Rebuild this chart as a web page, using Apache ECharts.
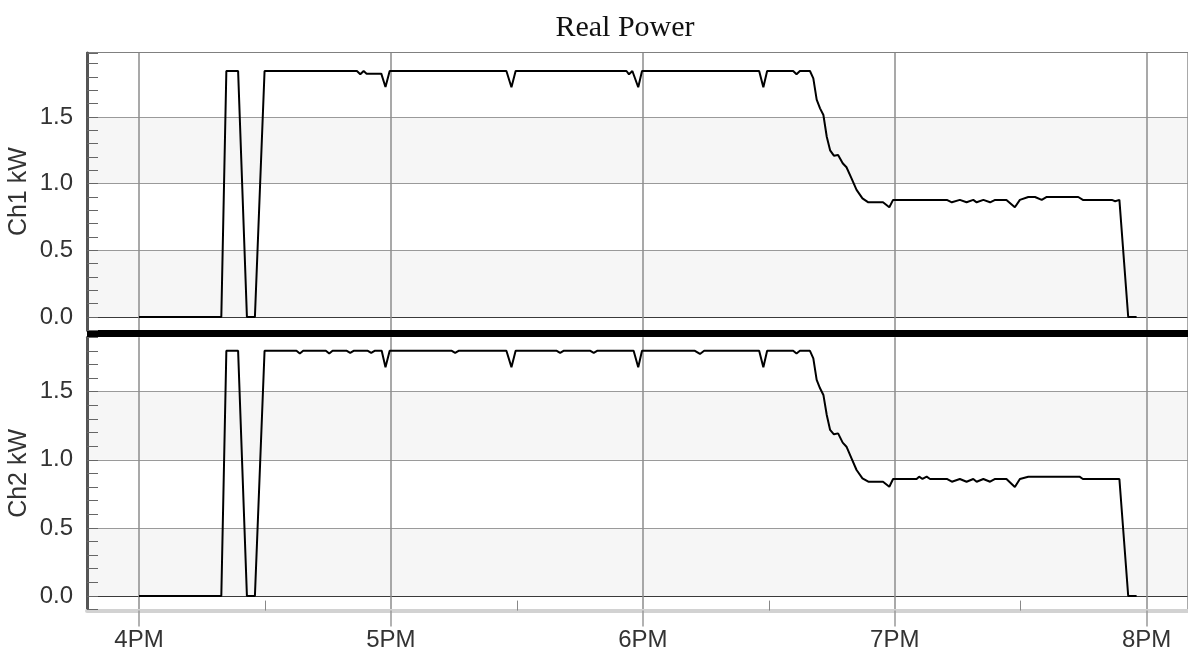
<!DOCTYPE html>
<html>
<head>
<meta charset="utf-8">
<title>Real Power</title>
<script src="https://cdn.jsdelivr.net/npm/echarts@6.0.0/dist/echarts.min.js"></script>
<style>
  html, body { margin: 0; padding: 0; background: #fff; }
  #chart { width: 1188px; height: 652px; }
</style>
</head>
<body>
<div id="chart"></div>
<script>
// time in minutes after 4PM, power in kW
var ch1Min = [0, 19.6, 20.8, 23.6, 25.7, 27.6, 29.9,
  51.9, 52.7, 53.5, 54.2, 57.7, 58.7, 59.7,
  87.5, 88.7, 89.7,
  116.1, 116.7, 117.5, 118.9, 119.8,
  147.7, 148.7, 149.6,
  155.8, 156.6, 157.4,
  159.8, 160.6, 161.4, 162.2, 163.0, 163.8, 164.6, 165.5, 166.5, 167.6, 168.5, 169.7, 170.9, 172.3, 173.7, 177.2, 178.7, 179.6,
  192.4, 193.6, 195.5, 197.1, 198.7, 199.5, 201.1, 202.7, 203.9, 206.6, 208.6, 209.8, 211.8, 213.4, 215.0, 216.2, 223.7, 224.8,
  231.7, 232.5, 233.5, 235.6, 237.6];
var ch1Kw = [0, 0, 1.845, 1.845, 0, 0, 1.845,
  1.845, 1.82, 1.845, 1.825, 1.825, 1.725, 1.845,
  1.845, 1.723, 1.845,
  1.845, 1.82, 1.845, 1.723, 1.845,
  1.845, 1.723, 1.845,
  1.845, 1.82, 1.845,
  1.845, 1.79, 1.63, 1.565, 1.515, 1.352, 1.25, 1.21, 1.215, 1.153, 1.123, 1.04, 0.953, 0.89, 0.86, 0.86, 0.823, 0.878,
  0.878, 0.86, 0.878, 0.86, 0.878, 0.86, 0.878, 0.86, 0.878, 0.878, 0.823, 0.878, 0.9, 0.9, 0.878, 0.9, 0.9, 0.878,
  0.878, 0.868, 0.878, 0, 0];

var ch2Min = [0, 19.6, 20.8, 23.6, 25.7, 27.6, 29.9,
  37.5, 38.3, 39.1, 44.5, 45.3, 46.1, 49.5, 50.3, 51.1, 54.5, 55.3, 56.1,
  57.8, 58.7, 59.7,
  74.5, 75.3, 76.1,
  87.5, 88.7, 89.7,
  99.5, 100.3, 101.1, 107.5, 108.3, 109.1,
  117.8, 118.9, 119.8,
  132.4, 133.6, 134.6,
  147.7, 148.7, 149.6,
  155.8, 156.6, 157.4,
  159.8, 160.6, 161.4, 162.2, 163.0, 163.8, 164.6, 165.5, 166.5, 167.6, 168.5, 169.7, 170.9, 172.3, 173.7, 177.2, 178.7, 179.6,
  185.2, 185.8, 186.6, 187.6, 188.4,
  192.4, 193.6, 195.5, 197.1, 198.7, 199.5, 201.1, 202.7, 203.9,
  206.6, 208.6, 209.8, 211.8, 224.0, 224.8, 233.5, 235.6, 237.6];
var ch2Kw = [0, 0, 1.80, 1.80, 0, 0, 1.80,
  1.80, 1.78, 1.80, 1.80, 1.78, 1.80, 1.80, 1.785, 1.80, 1.80, 1.785, 1.80,
  1.80, 1.68, 1.80,
  1.80, 1.785, 1.80,
  1.80, 1.68, 1.80,
  1.80, 1.785, 1.80, 1.80, 1.785, 1.80,
  1.80, 1.68, 1.80,
  1.80, 1.777, 1.80,
  1.80, 1.68, 1.80,
  1.80, 1.78, 1.80,
  1.80, 1.745, 1.586, 1.525, 1.476, 1.329, 1.219, 1.187, 1.194, 1.126, 1.096, 1.011, 0.925, 0.864, 0.839, 0.839, 0.802, 0.859,
  0.859, 0.876, 0.859, 0.876, 0.859,
  0.859, 0.839, 0.859, 0.839, 0.859, 0.839, 0.859, 0.839, 0.859,
  0.859, 0.80, 0.859, 0.876, 0.876, 0.859, 0.859, 0, 0];

var hourLabels = ['4PM', '5PM', '6PM', '7PM', '8PM'];
var panelNames = ['Ch1 kW', 'Ch2 kW'];

var X_MIN = 15.7935, X_MAX = 20.164;   // hours
var Y_STEP = 0.1;

function toSeries(mins, kw) {
  var out = [];
  for (var i = 0; i < mins.length; i++) out.push([16 + mins[i] / 60, kw[i]]);
  return out;
}

// tick values as echarts lays them out (from min by step, plus max)
function tickList(min, max) {
  var t = [];
  for (var i = 0; min + i * Y_STEP <= max + 1e-9; i++) t.push(+(min + i * Y_STEP).toFixed(4));
  if (Math.abs(t[t.length - 1] - max) > 1e-6) t.push(max);
  return t;
}
function isHalf(v) { return Math.abs(v * 2 - Math.round(v * 2)) < 1e-6; }

function lineColors(min, max) {
  return tickList(min, max).map(function (v, i, arr) {
    if (i === arr.length - 1 && !isHalf(v)) return 'rgba(0,0,0,0)';
    if (Math.abs(v) < 1e-6) return '#3a3a3a';
    return isHalf(v) ? '#9a9a9a' : 'rgba(0,0,0,0)';
  });
}
function areaColors(min, max) {
  var t = tickList(min, max), c = [];
  for (var i = 1; i < t.length; i++) {
    var m = (t[i - 1] + t[i]) / 2;
    if (m < 0) c.push('#ffffff');
    else c.push(Math.floor(m / 0.5) % 2 === 0 ? '#f6f6f6' : '#ffffff');
  }
  return c;
}

var labelFont = { fontFamily: 'Liberation Sans, Arial, sans-serif', fontSize: 24, color: '#333' };

function yAxisFor(idx, min, max) {
  return {
    type: 'value', gridIndex: idx, min: min, max: max, interval: Y_STEP,
    name: panelNames[idx], nameLocation: 'middle', nameGap: 55, nameMoveOverlap: false,
    nameTextStyle: { fontFamily: labelFont.fontFamily, fontSize: 25, color: '#333' },
    axisLine: { show: true, onZero: false, lineStyle: { color: '#555', width: 3 } },
    axisTick: { show: true, inside: true, length: 11, lineStyle: { color: '#666', width: 1 } },
    axisLabel: Object.assign({
      margin: 14,
      formatter: function (v) { return isHalf(v) && v >= 0 && v <= 1.5 + 1e-6 ? v.toFixed(1) : ''; }
    }, labelFont),
    splitLine: { show: true, lineStyle: { color: lineColors(min, max), width: 1.2 } },
    splitArea: { show: true, areaStyle: { color: areaColors(min, max) } }
  };
}

var myChart = echarts.init(document.getElementById('chart'));
myChart.setOption({
  animation: false,
  backgroundColor: '#fff',
  title: {
    text: 'Real Power', left: 620, top: 8, textAlign: 'center',
    textStyle: { fontFamily: 'Liberation Serif, Times New Roman, serif', fontSize: 30, fontWeight: 'normal', color: '#111' }
  },
  grid: [
    { left: 87, right: 0, top: 53, height: 277.3, show: true, borderColor: '#808080', borderWidth: 2, outerBoundsMode: 'none' },
    { left: 87, right: 0, top: 337.2, height: 272.4, outerBoundsMode: 'none' }
  ],
  xAxis: [
    {
      type: 'value', gridIndex: 0, min: X_MIN, max: X_MAX, offset: 3,
      axisLine: { show: true, onZero: false, lineStyle: { color: '#000', width: 7, cap: 'butt' } },
      axisTick: { show: false }, axisLabel: { show: false },
      splitLine: { show: true, lineStyle: { color: '#8c8c8c', width: 1.5 } }
    },
    {
      type: 'value', gridIndex: 1, min: X_MIN, max: X_MAX, position: 'bottom', offset: 1,
      axisLine: { show: true, onZero: false, lineStyle: { color: '#d2d2d2', width: 4 } },
      axisTick: { show: true, length: 16, lineStyle: { color: '#999', width: 1.5 } },
      axisLabel: Object.assign({
        margin: 18, showMinLabel: false, showMaxLabel: false,
        formatter: function (v) {
          var k = Math.round(v) - 16;
          return Math.abs(v - Math.round(v)) < 1e-6 && hourLabels[k] ? hourLabels[k] : '';
        }
      }, labelFont),
      splitLine: { show: true, lineStyle: { color: '#8c8c8c', width: 1.5 } }
    },
    {
      // half-hour marks, pointing up into the plot
      type: 'value', gridIndex: 1, min: X_MIN, max: X_MAX, position: 'bottom', offset: 1,
      axisLine: { show: false, onZero: false },
      axisTick: { show: false, inside: true },
      minorTick: { show: true, splitNumber: 2, length: 10, lineStyle: { color: '#888', width: 1 } },
      axisLabel: { show: false },
      splitLine: { show: false }
    }
  ],
  yAxis: [yAxisFor(0, -0.1, 1.98), yAxisFor(1, -0.1, 1.9)],
  series: [
    {
      name: 'Ch1', type: 'line', xAxisIndex: 0, yAxisIndex: 0,
      data: toSeries(ch1Min, ch1Kw), showSymbol: false, symbol: 'none',
      lineStyle: { color: '#000', width: 2 }
    },
    {
      name: 'Ch2', type: 'line', xAxisIndex: 1, yAxisIndex: 1,
      data: toSeries(ch2Min, ch2Kw), showSymbol: false, symbol: 'none',
      lineStyle: { color: '#000', width: 2 }
    }
  ]
});
</script>
</body>
</html>
